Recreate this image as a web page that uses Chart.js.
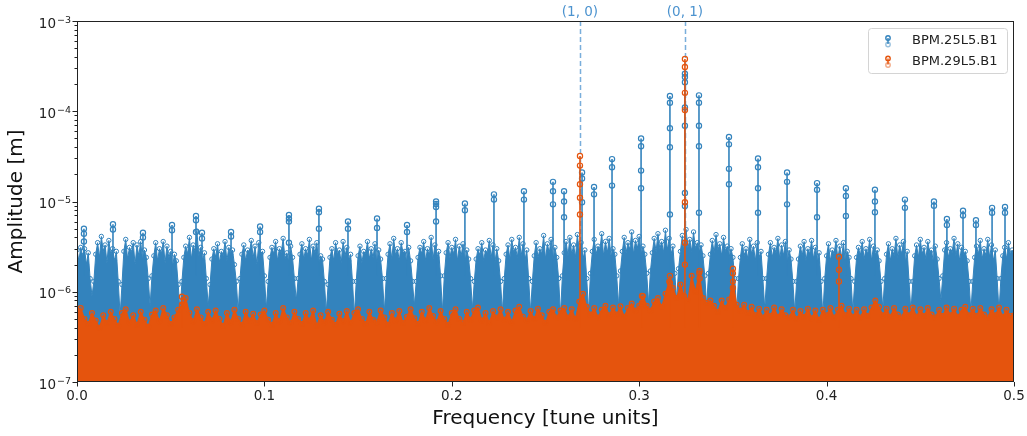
<!DOCTYPE html>
<html>
<head>
<meta charset="utf-8">
<script src="https://cdn.jsdelivr.net/npm/chart.js@4/dist/chart.umd.min.js"></script>
<style>
html,body{margin:0;padding:0;background:#fff;}
canvas{display:block;}
</style>
</head>
<body>
<canvas id="c" width="1027" height="436"></canvas>
<script>
// ---------------- data ----------------
const seriesNames = ['BPM.25L5.B1', 'BPM.29L5.B1'];

// frequency spacing of the noise-floor envelope samples [tune units]
const blueNoiseStep = 0.001;
const orangeNoiseStep = 0.002;

// upper envelope of the dense noise floor, BPM.25L5.B1 [µm] (one row per sideband cluster)
const blueNoiseUm = [
  2.9,2.2,3.1,2.5,3.0,2.0,2.7,1.4,0.9,
  1.3,2.6,3.5,2.4,4.1,2.8,3.3,2.1,3.7,2.6,3.0,2.2,2.8,1.3,0.55,
  1.2,2.8,3.8,2.3,3.1,2.7,3.5,2.0,3.3,2.5,3.6,2.2,2.9,2.4,1.4,0.7,
  1.5,2.5,3.5,2.2,3.0,2.6,3.6,2.1,3.2,2.4,2.8,1.9,2.6,2.2,1.2,0.6,
  1.3,2.4,3.2,2.6,4.0,2.3,3.3,2.8,4.7,2.5,3.1,2.2,2.7,1.4,0.7,
  1.2,2.3,3.0,2.4,3.4,2.1,2.8,2.5,3.6,2.2,3.1,2.6,2.9,2.0,1.3,0.6,
  1.4,2.6,3.3,2.2,2.9,2.7,3.7,2.4,3.2,2.0,3.5,2.6,2.8,1.5,0.65,
  1.3,2.4,3.1,2.6,3.6,2.2,3.0,2.7,3.9,2.3,2.7,2.1,3.2,2.4,1.4,0.8,
  1.4,2.6,3.4,2.3,3.0,2.5,3.8,2.2,3.2,2.7,3.5,2.0,2.5,2.3,1.3,0.6,
  1.2,2.4,3.0,2.2,3.5,2.6,2.9,2.1,3.6,2.5,3.1,2.2,2.6,1.3,0.55,
  1.3,2.5,3.2,2.1,2.8,2.6,3.6,2.3,3.0,2.4,3.4,2.0,2.9,2.3,1.4,0.6,
  1.4,2.6,3.4,2.3,3.9,2.5,3.0,2.2,3.5,2.7,2.8,2.1,3.1,2.2,1.3,0.7,
  1.3,2.4,3.1,2.6,3.6,2.2,3.0,2.5,4.0,2.3,3.3,2.4,2.8,1.5,0.6,
  1.5,2.7,3.5,2.4,3.1,2.6,3.8,2.2,3.2,2.5,3.4,2.1,2.9,2.3,1.4,0.65,
  1.3,2.3,3.0,2.5,3.5,2.2,2.9,2.6,3.7,2.4,3.3,2.1,3.0,2.2,1.3,0.6,
  1.4,2.6,3.3,2.3,3.8,2.7,3.1,2.4,4.0,2.5,3.4,2.2,2.9,1.4,0.6,
  1.3,2.5,3.5,2.4,3.0,2.6,4.2,2.3,3.4,2.7,3.8,2.2,3.1,2.4,1.4,0.55,
  1.5,2.7,3.6,2.5,4.0,2.6,3.3,2.4,4.3,2.8,3.5,2.3,2.9,1.4,0.6,
  1.6,2.8,3.8,2.6,3.2,2.9,4.4,2.5,3.6,2.7,3.9,2.4,3.0,2.6,1.5,0.7,
  1.7,2.8,4.0,2.7,3.5,2.9,4.6,2.6,3.7,3.0,4.1,2.5,3.2,2.6,1.6,0.75,
  1.7,2.7,3.9,2.8,4.4,3.0,3.6,2.7,4.8,2.9,3.9,2.6,3.2,1.6,0.8,
  1.8,2.8,4.2,2.9,4.9,3.1,3.8,2.8,4.6,3.0,3.5,2.7,3.3,2.5,1.5,0.7,
  1.6,2.6,3.7,2.7,4.3,2.9,3.4,2.5,4.0,2.8,3.2,2.4,3.0,2.4,1.4,0.6,
  1.4,2.4,3.4,2.5,3.0,2.3,3.8,2.6,3.2,2.2,3.5,2.4,2.8,1.4,0.65,
  1.4,2.6,3.5,2.4,3.1,2.7,3.9,2.3,3.3,2.5,3.6,2.1,2.9,2.3,1.3,0.6,
  1.3,2.3,3.2,2.5,3.6,2.2,3.0,2.6,3.7,2.3,3.1,2.1,2.7,1.3,0.55,
  1.4,2.5,3.4,2.2,2.9,2.6,3.7,2.3,3.2,2.4,3.5,2.1,2.8,2.4,1.4,0.6,
  1.3,2.4,3.1,2.5,3.6,2.3,3.0,2.6,3.8,2.2,3.2,2.5,2.9,2.2,1.3,0.65,
  1.4,2.6,3.4,2.2,3.0,2.5,3.9,2.4,3.3,2.6,3.6,2.1,2.8,1.3,0.6,
  1.3,2.5,3.3,2.4,3.8,2.6,3.1,2.3,3.6,2.7,2.9,2.1,3.2,2.3,1.4,0.8,
  1.5,2.9,3.5,2.4,3.0,2.7,3.9,2.5,3.4,2.2,3.1,2.5,2.8,2.2,1.3,0.6,
  1.3,2.4,3.2,2.6,3.7,2.3,3.0,2.5,3.8,2.4,3.3,2.2,2.9,1.4,0.6,
  1.4,2.5,3.1,2.3,3.5,2.6,2.9,2.4
];

// upper envelope of the dense noise floor, BPM.29L5.B1 [µm]
const orangeNoiseUm = [
  0.62,0.66,0.50,0.44,0.58,0.48,0.40,0.55,0.45,0.60,
  0.50,0.42,0.58,0.64,0.46,0.55,0.43,0.60,0.49,0.41,
  0.56,0.62,0.47,0.66,0.55,0.44,0.52,0.63,0.70,0.85,
  0.58,0.47,0.64,0.52,0.44,0.60,0.48,0.62,0.50,0.42,
  0.58,0.46,0.63,0.50,0.43,0.60,0.48,0.57,0.45,0.56,
  0.62,0.49,0.43,0.58,0.47,0.66,0.52,0.45,0.60,0.50,
  0.44,0.58,0.48,0.62,0.42,0.55,0.46,0.60,0.49,0.43,
  0.57,0.47,0.61,0.45,0.58,0.64,0.50,0.44,0.60,0.49,
  0.46,0.62,0.52,0.43,0.58,0.48,0.61,0.45,0.53,0.64,
  0.51,0.44,0.60,0.48,0.66,0.54,0.46,0.61,0.50,0.43,
  0.58,0.64,0.50,0.45,0.60,0.49,0.62,0.67,0.48,0.58,
  0.45,0.61,0.52,0.64,0.49,0.60,0.46,0.62,0.68,0.53,
  0.48,0.61,0.50,0.65,0.55,0.45,0.60,0.64,0.52,0.62,
  0.66,0.52,0.64,0.50,0.78,0.95,0.68,0.56,0.66,0.52,
  0.63,0.70,0.55,0.67,0.56,0.69,0.53,0.66,0.74,0.62,
  0.70,0.90,0.70,0.62,0.78,0.85,0.68,0.95,1.30,1.10,
  0.85,1.20,0.90,0.80,1.50,1.00,1.60,0.85,0.75,0.80,
  0.70,0.60,0.80,0.66,0.82,1.30,0.72,0.62,0.72,0.58,
  0.68,0.55,0.65,0.52,0.63,0.54,0.67,0.53,0.64,0.55,
  0.52,0.63,0.50,0.61,0.53,0.65,0.51,0.62,0.49,0.63,
  0.55,0.66,0.52,0.63,0.70,0.55,0.65,0.53,0.63,0.52,
  0.64,0.54,0.67,0.80,0.68,0.55,0.65,0.53,0.66,0.56,
  0.52,0.65,0.55,0.67,0.53,0.64,0.54,0.66,0.56,0.52,
  0.63,0.54,0.67,0.55,0.65,0.53,0.63,0.68,0.55,0.65,
  0.54,0.66,0.56,0.52,0.64,0.55,0.67,0.53,0.63,0.54,
  0.55
];

// spectral lines of BPM.25L5.B1: frequency [tune units] and amplitudes of the bins along each line [m]
const bluePeakFreq = [0.0037,0.0192,0.0352,0.0507,0.0635,0.0667,0.0822,0.0977,0.1131,0.1291,
  0.1446,0.1601,0.1761,0.1916,0.2070,0.2225,0.2385,0.2540,0.2599,0.2695,
  0.2759,0.2855,0.3010,0.3164,0.3244,0.3319,0.3479,0.3634,0.3789,0.3949,
  0.4103,0.4258,0.4418,0.4573,0.4642,0.4728,0.4797,0.4883,0.4952];
const bluePeakAmp = [
  [5.0e-6,4.4e-6,3.6e-6],[5.6e-6,4.9e-6],[4.5e-6,4.0e-6],[5.5e-6,4.8e-6],[6.9e-6,6.2e-6,4.6e-6],
  [4.5e-6,3.9e-6],[4.6e-6,4.1e-6],[5.3e-6,4.6e-6],[7.1e-6,6.5e-6,6.0e-6,3.5e-6],[8.3e-6,7.6e-6,5.0e-6],
  [6.0e-6,5.0e-6],[6.5e-6,5.1e-6],[5.5e-6,4.6e-6],[1.0e-5,9.4e-6,8.7e-6,6.0e-6],[9.5e-6,8.0e-6],
  [1.2e-5,1.05e-5],[1.3e-5,1.05e-5],[1.65e-5,1.3e-5,9.3e-6],[1.3e-5,1.0e-5,6.7e-6],[2.1e-5,1.8e-5,9.8e-6],
  [1.45e-5,1.2e-5],[2.95e-5,2.4e-5,1.5e-5],[5.0e-5,4.1e-5,2.2e-5,1.4e-5],[1.48e-4,1.24e-4,6.5e-5,4.0e-5,7.2e-6],
  [2.6e-4,2.4e-4,2.1e-4,1.1e-4,6.9e-5,1.24e-5,8.9e-6],
  [1.5e-4,1.24e-4,6.9e-5,4.1e-5,7.5e-6],[5.2e-5,4.3e-5,2.3e-5,1.55e-5],[3.0e-5,2.4e-5,1.4e-5,7.5e-6],
  [2.1e-5,1.65e-5,9.3e-6],[1.6e-5,1.35e-5,6.7e-6],
  [1.4e-5,1.15e-5,6.9e-6],[1.35e-5,1.0e-5,7.6e-6],[1.05e-5,8.5e-6],[1.0e-5,9.0e-6],[6.4e-6,5.5e-6],
  [7.9e-6,7.0e-6],[6.2e-6,5.5e-6],[8.5e-6,7.5e-6],[8.7e-6,7.5e-6]
];

// spectral lines of BPM.29L5.B1
const orangePeakFreq = [0.0560,0.2684,0.3015,0.3164,0.3244,0.3322,0.3500,0.4066];
const orangePeakAmp = [
  [8.8e-7,7.2e-7],
  [3.2e-5,2.5e-5,1.55e-5,1.1e-5,7.2e-6],
  [9.0e-7,7.5e-7],
  [1.5e-6,1.25e-6],
  [3.8e-4,3.1e-4,1.6e-4,1.03e-4,9.8e-6,3.5e-6,2.0e-6],
  [1.7e-6,1.4e-6],
  [1.8e-6,1.6e-6,1.1e-6],
  [2.45e-6,1.75e-6,1.3e-6]
];

// tune lines
const tuneFreq = [0.2684, 0.3244];
const tuneLabels = ['(1, 0)', '(0, 1)'];

// axes
const xTickValues = [0, 0.1, 0.2, 0.3, 0.4, 0.5];
const xTickLabels = ['0.0', '0.1', '0.2', '0.3', '0.4', '0.5'];
const yDecades = [-7, -6, -5, -4, -3];
const yMin = 1e-7, yMax = 1e-3;

// ---------------- styling ----------------
const BLUE = '#3383bd';
const ORANGE = '#e5540d';
const TUNE = '#4c93cf';
const FONT = 'DejaVu Sans';

function noisePoints(vals, step) {
  return vals.map((v, i) => ({ x: +(i * step).toFixed(4), y: v * 1e-6 }));
}
function stemPoints(freqs, levels, base) {
  const pts = [];
  freqs.forEach((f, i) => {
    if (!levels[i]) return;
    const lv = levels[i].slice().sort((a, b) => a - b);
    pts.push({ x: f, y: base, base: true });
    lv.forEach(v => pts.push({ x: f, y: v }));
    pts.push({ x: f, y: null });
  });
  return pts;
}

const decor = {
  id: 'decor',
  beforeDatasetsDraw(chart) {
    const { ctx, chartArea: a, scales: { x } } = chart;
    ctx.save();
    ctx.strokeStyle = 'rgba(76,147,207,0.75)';
    ctx.lineWidth = 1.5;
    ctx.setLineDash([5, 3]);
    tuneFreq.forEach(f => {
      const px = Math.round(x.getPixelForValue(f)) + 0.5;
      ctx.beginPath(); ctx.moveTo(px, a.top); ctx.lineTo(px, a.bottom); ctx.stroke();
    });
    ctx.restore();
  },
  afterDraw(chart) {
    const { ctx, chartArea: a, scales: { x, y } } = chart;
    ctx.save();
    // frame
    ctx.strokeStyle = '#222';
    ctx.lineWidth = 1;
    ctx.strokeRect(Math.round(a.left) + 0.5, Math.round(a.top) + 0.5,
      Math.round(a.right - a.left) - 1, Math.round(a.bottom - a.top) - 1);
    // y ticks (major + minor)
    ctx.beginPath();
    yDecades.forEach(d => {
      for (let m = 1; m <= 9; m++) {
        const v = m * Math.pow(10, d);
        if (v > yMax * 1.0001) break;
        const py = Math.round(y.getPixelForValue(v)) + 0.5;
        const len = m === 1 ? 4.5 : 2.5;
        ctx.moveTo(a.left - len, py); ctx.lineTo(a.left, py);
      }
    });
    // x ticks
    xTickValues.forEach(v => {
      const px = Math.round(x.getPixelForValue(v)) + 0.5;
      ctx.moveTo(px, a.bottom); ctx.lineTo(px, a.bottom + 4.5);
    });
    ctx.stroke();

    // y tick labels 10^n
    ctx.fillStyle = '#222';
    ctx.textAlign = 'left';
    ctx.textBaseline = 'alphabetic';
    yDecades.forEach(d => {
      const py = y.getPixelForValue(Math.pow(10, d));
      const sup = '\u2212' + Math.abs(d);
      ctx.font = '9.5px "' + FONT + '"';
      const w2 = ctx.measureText(sup).width;
      ctx.font = '13.5px "' + FONT + '"';
      const w1 = ctx.measureText('10').width;
      const xr = a.left - 6;
      ctx.fillText('10', xr - w2 - 1 - w1, py + 6.5);
      ctx.font = '9.5px "' + FONT + '"';
      ctx.fillText(sup, xr - w2, py + 1.5);
    });

    // x tick labels
    ctx.font = '13.5px "' + FONT + '"';
    ctx.textAlign = 'center';
    ctx.textBaseline = 'top';
    xTickValues.forEach((v, i) => {
      ctx.fillText(xTickLabels[i], x.getPixelForValue(v), a.bottom + 8);
    });

    // tune labels
    ctx.fillStyle = TUNE;
    ctx.font = '13.5px "' + FONT + '"';
    ctx.textAlign = 'center';
    ctx.textBaseline = 'middle';
    tuneFreq.forEach((f, i) => {
      ctx.fillText(tuneLabels[i], x.getPixelForValue(f), a.top - 9);
    });

    // legend
    const lx = a.right - 146, ly = a.top + 7, lw = 139, lh = 45;
    ctx.beginPath();
    if (ctx.roundRect) ctx.roundRect(lx + 0.5, ly + 0.5, lw, lh, 3); else ctx.rect(lx + 0.5, ly + 0.5, lw, lh);
    ctx.fillStyle = 'rgba(255,255,255,0.85)';
    ctx.fill();
    ctx.strokeStyle = '#d4d4d4';
    ctx.lineWidth = 1;
    ctx.stroke();
    const cols = [BLUE, ORANGE];
    seriesNames.forEach((name, i) => {
      const cy = ly + 13 + i * 20.5;
      const cx = lx + 20;
      ctx.strokeStyle = cols[i];
      ctx.lineWidth = 1.4;
      ctx.beginPath(); ctx.moveTo(cx, cy - 3); ctx.lineTo(cx, cy + 3); ctx.stroke();
      ctx.beginPath(); ctx.arc(cx, cy - 3, 2.2, 0, Math.PI * 2); ctx.stroke();
      ctx.globalAlpha = 0.5;
      ctx.beginPath(); ctx.arc(cx, cy + 3.5, 2.2, 0, Math.PI * 2); ctx.stroke();
      ctx.globalAlpha = 1;
      ctx.fillStyle = '#222';
      ctx.font = '13px "' + FONT + '"';
      ctx.textAlign = 'left';
      ctx.textBaseline = 'middle';
      ctx.fillText(name, lx + 44, cy);
    });
    ctx.restore();
  }
};

const baseMarker = {
  pointBackgroundColor: 'rgba(255,255,255,0)',
  pointBorderWidth: 1.2,
  pointStyle: 'circle',
  spanGaps: false,
  tension: 0
};

new Chart(document.getElementById('c'), {
  type: 'line',
  data: {
    datasets: [
      Object.assign({}, baseMarker, {
        label: seriesNames[1] + ' lines',
        data: stemPoints(orangePeakFreq, orangePeakAmp, 4e-7),
        borderColor: ORANGE, pointBorderColor: ORANGE, borderWidth: 1.6,
        pointRadius: c => (c.raw && c.raw.base) ? 0 : 2.6,
        fill: false, order: 1
      }),
      Object.assign({}, baseMarker, {
        label: seriesNames[1],
        data: noisePoints(orangeNoiseUm, orangeNoiseStep),
        borderColor: ORANGE, pointBorderColor: ORANGE, backgroundColor: ORANGE,
        borderWidth: 1.2, pointRadius: 2.4, fill: 'start', order: 2
      }),
      Object.assign({}, baseMarker, {
        label: seriesNames[0] + ' lines',
        data: stemPoints(bluePeakFreq, bluePeakAmp, 1.5e-6),
        borderColor: BLUE, pointBorderColor: BLUE, borderWidth: 1.6,
        pointRadius: c => (c.raw && c.raw.base) ? 0 : 2.6,
        fill: false, order: 3
      }),
      Object.assign({}, baseMarker, {
        label: seriesNames[0],
        data: noisePoints(blueNoiseUm, blueNoiseStep),
        borderColor: BLUE, pointBorderColor: BLUE, backgroundColor: BLUE,
        borderWidth: 1.0, pointRadius: 2.2, pointBorderWidth: 1.0, fill: 'start', order: 4
      })
    ]
  },
  options: {
    responsive: false,
    animation: false,
    devicePixelRatio: 1,
    events: [],
    layout: { padding: { left: 0, right: 13, top: 21, bottom: 0 } },
    plugins: { legend: { display: false }, tooltip: { enabled: false } },
    scales: {
      x: {
        type: 'linear', min: 0, max: 0.5,
        ticks: { display: false },
        grid: { display: false, drawTicks: false },
        border: { display: false },
        title: {
          display: true, text: 'Frequency [tune units]',
          font: { family: FONT, size: 20 }, color: '#111',
          padding: { top: 0, bottom: 5 }
        },
        afterFit: s => { s.height = 54; }
      },
      y: {
        type: 'logarithmic', min: yMin, max: yMax,
        ticks: { display: false },
        grid: { display: false, drawTicks: false },
        border: { display: false },
        title: {
          display: true, text: 'Amplitude [m]',
          font: { family: FONT, size: 20 }, color: '#111',
          padding: { top: 5, bottom: 0 }
        },
        afterFit: s => { s.width = 77; }
      }
    }
  },
  plugins: [decor]
});
</script>
</body>
</html>
